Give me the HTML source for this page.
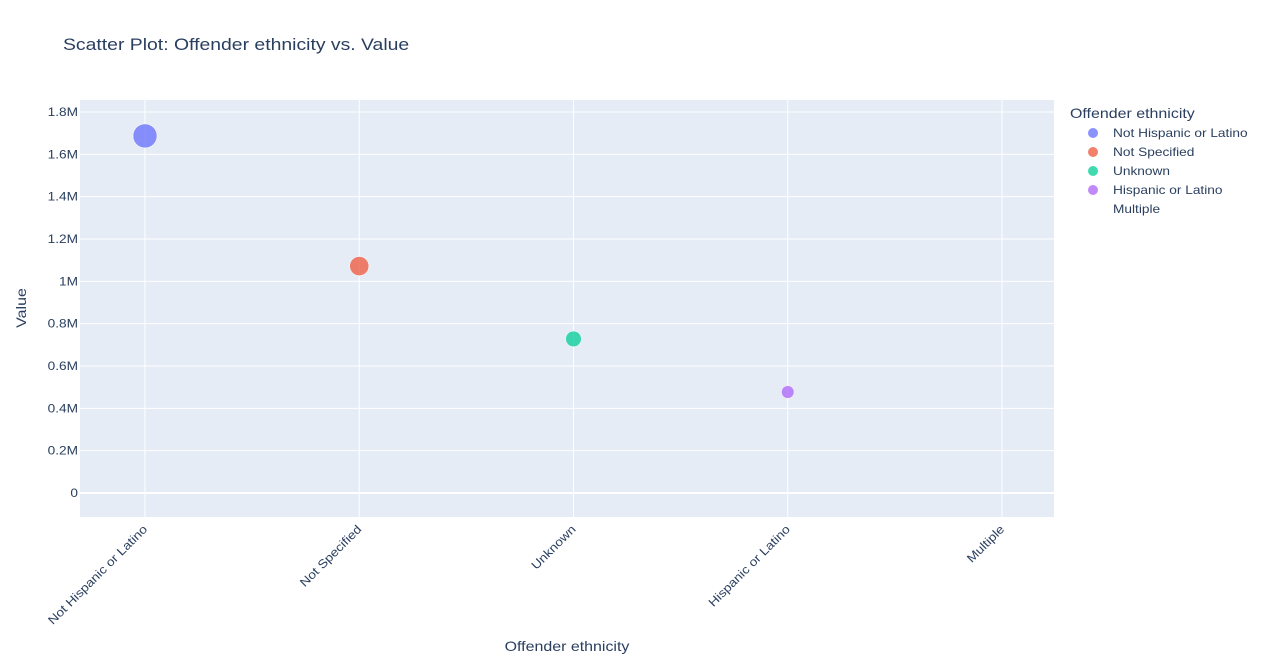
<!DOCTYPE html>
<html><head><meta charset="utf-8"><style>
body{margin:0;background:#fff;font-family:"Liberation Sans",Arial,sans-serif;}
svg text{font-family:"Liberation Sans",Arial,sans-serif;fill:#2a3f5f;}
</style></head><body>
<svg id="chart" width="1264" height="662">
<text x="63" y="50" font-size="17">Scatter Plot: Offender ethnicity vs. Value</text>
<rect x="80" y="100" width="974" height="417" fill="#e5ecf6"/>
<g id="grid"></g><g id="marks"></g><g id="xt"></g><g id="yt"></g>
<text x="567" y="651" font-size="14" text-anchor="middle">Offender ethnicity</text>
<text transform="translate(26,308) rotate(-90)" font-size="14" text-anchor="middle">Value</text>
<text x="1070" y="118" font-size="14">Offender ethnicity</text>
<g id="legend"></g>
</svg>
<script>
const categories=["Not Hispanic or Latino","Not Specified","Unknown","Hispanic or Latino","Multiple"];
const values=[1687000,1072000,728000,477000,0];
const colors=["#636efa","#EF553B","#00cc96","#ab63fa","#FFA15A"];
const yTicks=[0,200000,400000,600000,800000,1000000,1200000,1400000,1600000,1800000];
const yTickLabels=["0","0.2M","0.4M","0.6M","0.8M","1M","1.2M","1.4M","1.6M","1.8M"];
const NS="http://www.w3.org/2000/svg";
const xs=i=>145+i*214.25;
const ys=v=>493-v*(381/1800000);
function mk(t,a,p){const e=document.createElementNS(NS,t);for(const k in a)e.setAttribute(k,a[k]);document.getElementById(p).appendChild(e);return e;}
yTicks.forEach((v,i)=>{
 const l=mk('line',{x1:80,x2:1054,y1:ys(v),y2:ys(v),stroke:'#fff','stroke-width':v===0?2:1},'grid');
 
 
 const t=mk('text',{x:78,y:ys(v)+4,'font-size':12,'text-anchor':'end'},'yt');t.textContent=yTickLabels[i];
 
 
});
categories.forEach((c,i)=>{
 const l=mk('line',{x1:xs(i),x2:xs(i),y1:100,y2:517,stroke:'#fff','stroke-width':1},'grid');
 
 
 const t=mk('text',{transform:`translate(${xs(i)+3},530) rotate(-45)`,'font-size':12,'text-anchor':'end'},'xt');t.textContent=c;
 
 
 const r=12*Math.sqrt(values[i]/values[0]);
 if(r>0.5){const p=mk('circle',{cx:xs(i),cy:ys(values[i]),r:r,fill:colors[i],'fill-opacity':0.75,stroke:'#fff','stroke-width':0.5},'marks');
 
 }
 const ly=133+i*19;
 if(values[i]>0){const d=mk('circle',{cx:1093,cy:ly,r:5,fill:colors[i],'fill-opacity':0.75},'legend');
 
 }
 const lt=mk('text',{x:1113,y:ly+4,'font-size':12},'legend');lt.textContent=c;
 
 
});
document.querySelectorAll('svg text').forEach(t=>{
 const w=t.getComputedTextLength();
 if(w>0){t.setAttribute('textLength',(w*1.14).toFixed(1));t.setAttribute('lengthAdjust','spacingAndGlyphs');}
});
</script>
</body></html>
